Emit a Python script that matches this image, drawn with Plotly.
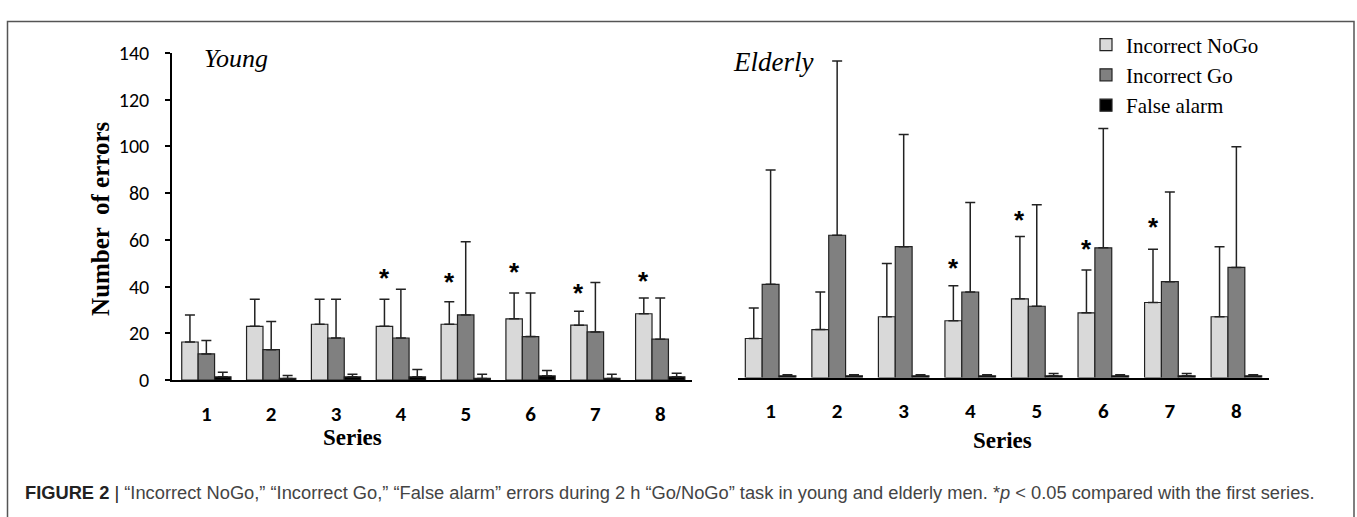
import plotly.graph_objects as go

W, H = 1357, 517

categories = ["1", "2", "3", "4", "5", "6", "7", "8"]
series_names = ["Incorrect NoGo", "Incorrect Go", "False alarm"]

young_nogo = [16.3, 23.0, 23.9, 23.0, 23.9, 26.2, 23.5, 28.4]
young_nogo_sd = [11.6, 11.6, 10.7, 11.6, 9.6, 11.1, 6.0, 6.7]
young_go = [11.2, 13.0, 18.0, 18.0, 27.9, 18.6, 20.6, 17.5]
young_go_sd = [5.7, 12.1, 16.6, 20.9, 31.3, 18.7, 21.2, 17.6]
young_fa = [1.4, 0.7, 1.4, 1.4, 0.7, 1.8, 0.7, 1.4]
young_fa_sd = [2.0, 1.3, 1.1, 3.1, 1.8, 2.3, 1.8, 1.5]

elderly_nogo = [16.7, 20.5, 26.0, 24.3, 33.7, 27.7, 32.1, 26.0]
elderly_nogo_sd = [13.1, 16.1, 22.8, 15.0, 26.7, 18.3, 22.8, 30.0]
elderly_go = [39.9, 60.9, 56.0, 36.6, 30.5, 55.5, 41.0, 47.1]
elderly_go_sd = [48.9, 74.6, 48.0, 38.3, 43.4, 51.1, 38.4, 51.7]
elderly_fa = [0.7, 0.7, 0.7, 0.7, 0.7, 0.7, 0.7, 0.7]
elderly_fa_sd = [0.5, 0.5, 0.5, 0.5, 1.0, 0.5, 1.0, 0.5]

# significance markers (series number, height of asterisk)
young_star_series = [4, 5, 6, 7, 8]
young_star_y = [46.4, 44.4, 49.0, 39.9, 45.0]
elderly_star_series = [4, 5, 6, 7]
elderly_star_y = [49.6, 70.0, 57.7, 67.0]

y_ticks = [0, 20, 40, 60, 80, 100, 120, 140]

colors = ["#d9d9d9", "#808080", "#000000"]
BARGAP = 0.24
SERIF = "Liberation Serif, Times New Roman, serif"
SANS_TICK = "Carlito, Lato, sans-serif"
STAR_FONT = "Liberation Sans, Arial, sans-serif"

idx = list(range(len(categories)))

fig = go.Figure()

panels = [
    ("x", "y", [young_nogo, young_go, young_fa], [young_nogo_sd, young_go_sd, young_fa_sd], True),
    ("x2", "y2", [elderly_nogo, elderly_go, elderly_fa], [elderly_nogo_sd, elderly_go_sd, elderly_fa_sd], False),
]
for xa, ya, vals, sds, show in panels:
    for name, v, sd, c in zip(series_names, vals, sds, colors):
        fig.add_trace(go.Bar(
            x=idx, y=v, name=name, xaxis=xa, yaxis=ya,
            marker=dict(color=c, line=dict(color="#222222", width=1.2)),
            error_y=dict(type="data", array=sd, symmetric=False,
                         arrayminus=[0] * len(sd), color="#222222",
                         thickness=1.5, width=5),
            showlegend=show, legendgroup=name,
        ))

off = -(1 - BARGAP) / 3
annotations = []
for s, yv in zip(young_star_series, young_star_y):
    annotations.append(dict(x=idx[s - 1] + off, y=yv, xref="x", yref="y",
                            text="<b>*</b>", showarrow=False,
                            font=dict(family=STAR_FONT, size=26, color="#000"),
                            yanchor="middle", yshift=-6))
for s, yv in zip(elderly_star_series, elderly_star_y):
    annotations.append(dict(x=idx[s - 1] + off, y=yv, xref="x2", yref="y2",
                            text="<b>*</b>", showarrow=False,
                            font=dict(family=STAR_FONT, size=26, color="#000"),
                            yanchor="middle", yshift=-6))

def px(x):
    return x / W

def py(y):
    return 1 - y / H

annotations += [
    dict(x=px(202), y=py(49), xref="paper", yref="paper", text="<i>Young</i>",
         showarrow=False, xanchor="left", yanchor="middle",
         font=dict(family=SERIF, size=26, color="#000")),
    dict(x=px(731), y=py(52), xref="paper", yref="paper", text="<i>Elderly</i>",
         showarrow=False, xanchor="left", yanchor="middle",
         font=dict(family=SERIF, size=27, color="#000")),
    dict(x=px(101), y=py(217), xref="paper", yref="paper", text="<b>Number  of errors</b>",
         showarrow=False, textangle=-90, xanchor="center", yanchor="middle",
         font=dict(family=SERIF, size=25, color="#000")),
    dict(x=px(352), y=py(446), xref="paper", yref="paper", text="<b>Series</b>",
         showarrow=False, xanchor="center", yanchor="middle",
         font=dict(family=SERIF, size=23, color="#000")),
    dict(x=px(1003), y=py(449), xref="paper", yref="paper", text="<b>Series</b>",
         showarrow=False, xanchor="center", yanchor="middle",
         font=dict(family=SERIF, size=23, color="#000")),
    dict(x=px(23), y=py(504), xref="paper", yref="paper",
         text=("<span style='color:#222'><b>FIGURE 2</b> | </span>"
               "“Incorrect NoGo,” “Incorrect Go,” “False alarm” errors during 2 h “Go/NoGo” "
               "task in young and elderly men. *<i>p</i> &lt; 0.05 compared with the first series."),
         showarrow=False, xanchor="left", yanchor="middle",
         font=dict(family="Liberation Sans, Arial, sans-serif", size=18.3, color="#444")),
]

fig.update_layout(
    width=W, height=H,
    margin=dict(l=0, r=0, t=0, b=0),
    paper_bgcolor="white", plot_bgcolor="white",
    barmode="group", bargap=BARGAP, bargroupgap=0,
    xaxis=dict(domain=[px(172), px(692)], range=[-0.53, 7.49],
               tickvals=idx, ticktext=["<b>%s</b>" % c for c in categories],
               showline=True, linecolor="#000", linewidth=1.5,
               ticks="", showgrid=False, zeroline=False,
               tickfont=dict(family=SANS_TICK, size=21, color="#000"),
               ticklabelstandoff=14, anchor="y"),
    yaxis=dict(domain=[py(386), py(43)], range=[0, 140], tickvals=y_ticks,
               showline=True, linecolor="#000", linewidth=1.5,
               ticks="outside", ticklen=5, tickcolor="#000", tickwidth=1.5,
               showgrid=False, zeroline=False,
               tickfont=dict(family=SANS_TICK, size=20, color="#000"),
               ticklabelstandoff=12, anchor="x"),
    xaxis2=dict(domain=[px(738), px(1269)], range=[-0.49, 7.49],
                tickvals=idx, ticktext=["<b>%s</b>" % c for c in categories],
                showline=True, linecolor="#000", linewidth=1.5,
                ticks="", showgrid=False, zeroline=False,
                tickfont=dict(family=SANS_TICK, size=21, color="#000"),
                ticklabelstandoff=14, anchor="y2"),
    yaxis2=dict(domain=[py(383.3), py(40.3)], range=[0, 140],
                showline=False, showticklabels=False, ticks="",
                showgrid=False, zeroline=False, anchor="x2"),
    legend=dict(x=px(1086), y=py(13), xanchor="left", yanchor="top",
                font=dict(family=SERIF, size=21, color="#000"),
                bgcolor="rgba(0,0,0,0)", itemwidth=30, tracegroupgap=0),
    annotations=annotations,
    shapes=[dict(type="rect", xref="paper", yref="paper",
                 x0=px(7.5), x1=px(1354), y0=-0.1, y1=py(10),
                 line=dict(color="#555", width=1.5), fillcolor="rgba(0,0,0,0)")],
)

post = (
    "var gd=document.getElementById('{plot_id}');"
    "gd.style.position='absolute';gd.style.left='0px';gd.style.top='0px';"
    "document.body.style.margin='0';document.body.style.padding='0';"
    "document.documentElement.style.overflow='hidden';document.body.style.overflow='hidden';"
)
fig.write_html("out.html", config={"displayModeBar": False}, post_script=post)
